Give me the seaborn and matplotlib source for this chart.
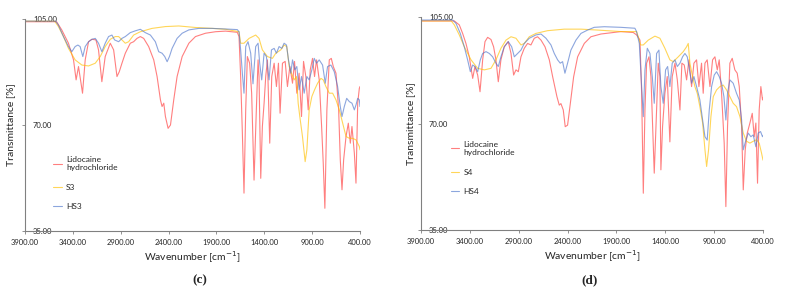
import pandas as pd
import seaborn as sns
import matplotlib.pyplot as plt
from matplotlib.ticker import FormatStrFormatter

# ---- panel (c) data : wavenumber [cm-1], transmittance [%] ----
lido_c_wn = [3900, 3570, 3516, 3446, 3393, 3366, 3341, 3299, 3271, 3236, 3201, 3159, 3132, 3097, 3062,
             3009, 2974, 2939, 2915, 2887, 2852, 2800, 2765, 2730, 2695, 2660, 2608, 2555, 2520, 2485,
             2468, 2450, 2433, 2405, 2380, 2346, 2311, 2258, 2188, 2119, 2014, 1909, 1804, 1682, 1664,
             1647, 1629, 1612, 1594, 1577, 1553, 1532, 1507, 1483, 1465, 1455, 1437, 1420, 1402, 1385,
             1367, 1343, 1322, 1297, 1273, 1252, 1235, 1210, 1182, 1158, 1133, 1105, 1084, 1060, 1036,
             1011, 990, 966, 941, 920, 896, 875, 854, 826, 801, 784, 767, 746, 721, 700,
             679, 651, 623, 606, 588, 571, 546, 522, 501, 484, 459, 442, 424, 407, 400]
lido_c_t = [104.1, 104.1, 101.4, 97.0, 91.5, 84.9, 89.3, 80.5, 91.5, 97.5, 98.3, 98.1, 94.8, 84.3, 92.6,
            97.0, 94.8, 86.0, 87.6, 90.4, 93.7, 97.0, 97.5, 98.6, 99.2, 98.6, 95.9, 91.5, 86.0, 78.3,
            76.1, 77.2, 72.8, 68.9, 70.0, 78.3, 86.0, 92.6, 97.0, 99.2, 100.3, 100.8, 101.0, 100.6, 99.2,
            86.0, 67.3, 47.5, 75.0, 92.6, 90.4, 80.5, 51.8, 75.0, 91.5, 86.0, 52.4, 69.5, 77.2, 86.0,
            91.5, 64.0, 86.0, 90.4, 82.7, 90.4, 73.9, 90.4, 91.0, 82.7, 89.3, 83.8, 91.0, 80.5, 87.1,
            72.8, 91.0, 86.0, 75.0, 88.2, 92.0, 86.0, 91.5, 84.9, 69.5, 57.4, 42.5, 75.0, 91.5, 92.0,
            89.3, 87.1, 75.0, 58.5, 48.6, 58.5, 66.2, 70.6, 64.0, 69.5, 60.7, 50.8, 77.2, 82.1, 82.7]

s3_wn = [3900, 3590, 3551, 3498, 3446, 3376, 3306, 3236, 3166, 3114, 3062, 3009, 2957, 2922, 2887,
         2852, 2817, 2765, 2695, 2573, 2433, 2293, 2119, 1944, 1804, 1664, 1647, 1612, 1559, 1490,
         1455, 1420, 1367, 1315, 1280, 1228, 1193, 1165, 1140, 1116, 1088, 1063, 1046, 1029, 1001,
         973, 955, 931, 903, 875, 843, 808, 784, 756, 721, 686, 651, 616, 581, 546,
         511, 477, 442, 407, 400]
s3_t = [104.3, 104.3, 102.5, 99.2, 95.3, 91.5, 89.8, 89.5, 90.4, 92.6, 95.9, 98.3, 99.2, 99.2, 98.1,
        97.0, 97.5, 99.7, 100.8, 101.9, 102.5, 102.7, 102.2, 101.9, 101.6, 100.8, 97.0, 97.0, 98.6, 99.7,
        98.6, 94.8, 92.6, 92.0, 93.7, 94.8, 96.4, 95.9, 89.3, 87.1, 84.9, 86.0, 77.2, 72.8, 66.2,
        57.9, 61.8, 75.0, 79.4, 81.6, 83.8, 85.4, 84.9, 82.7, 80.5, 80.5, 78.3, 75.0, 70.6, 66.2,
        65.6, 65.6, 65.1, 62.9, 61.8]

hs3_wn = [3900, 3580, 3551, 3498, 3446, 3411, 3376, 3348, 3324, 3296, 3271, 3236, 3201, 3166, 3132,
          3097, 3062, 3027, 2992, 2964, 2922, 2887, 2852, 2800, 2747, 2695, 2643, 2590, 2538, 2503,
          2468, 2440, 2415, 2391, 2363, 2311, 2258, 2188, 2084, 1944, 1804, 1682, 1664, 1647, 1629,
          1612, 1594, 1570, 1542, 1518, 1490, 1465, 1448, 1427, 1402, 1378, 1350, 1325, 1297, 1273,
          1245, 1217, 1193, 1168, 1147, 1123, 1105, 1081, 1060, 1036, 1011, 983, 955, 931, 903,
          878, 854, 826, 791, 763, 739, 704, 669, 634, 606, 588, 564, 539, 511, 484,
          459, 442, 424, 407, 400]
hs3_t = [104.3, 104.3, 103.0, 99.2, 95.9, 94.2, 95.9, 96.4, 95.9, 92.6, 95.9, 97.5, 98.3, 98.6, 97.0,
         94.2, 97.0, 99.2, 99.7, 98.1, 97.5, 98.6, 99.2, 100.5, 101.1, 101.6, 100.5, 99.7, 97.5, 94.2,
         93.7, 92.6, 90.9, 92.6, 95.3, 98.6, 100.3, 101.4, 101.9, 101.9, 101.7, 101.5, 100.8, 94.8, 87.1,
         80.5, 95.9, 97.5, 93.7, 83.6, 95.9, 97.0, 90.4, 84.9, 93.7, 92.6, 84.9, 94.8, 95.3, 93.7,
         95.9, 95.3, 97.0, 96.4, 91.5, 87.1, 91.5, 88.2, 89.3, 81.6, 86.0, 80.5, 86.0, 84.9, 88.2,
         92.0, 90.4, 91.5, 89.8, 83.8, 89.3, 89.8, 87.6, 82.7, 76.1, 72.8, 76.1, 78.8, 77.7, 77.2,
         75.0, 76.6, 78.8, 78.3, 76.1]

# ---- panel (d) data ----
lido_d_wn = [3900, 3559, 3508, 3474, 3440, 3406, 3371, 3348, 3320, 3296, 3269, 3245, 3218, 3184, 3157,
             3133, 3109, 3082, 3048, 3007, 2979, 2952, 2928, 2904, 2877, 2843, 2809, 2775, 2741, 2707,
             2672, 2631, 2587, 2553, 2509, 2485, 2468, 2444, 2424, 2400, 2372, 2338, 2297, 2229, 2161,
             2059, 1956, 1854, 1728, 1694, 1659, 1642, 1625, 1608, 1591, 1567, 1547, 1513, 1489, 1472,
             1455, 1445, 1428, 1404, 1380, 1353, 1329, 1301, 1277, 1250, 1230, 1206, 1182, 1158, 1131,
             1107, 1080, 1056, 1029, 1012, 994, 971, 943, 916, 892, 868, 848, 824, 797, 780,
             763, 739, 715, 688, 664, 643, 619, 602, 582, 561, 534, 510, 490, 473, 456,
             439, 422, 405, 400]
lido_d_t = [103.8, 103.8, 102.5, 99.7, 96.4, 92.0, 84.9, 88.8, 86.0, 80.5, 91.0, 97.0, 98.4, 97.7, 95.3,
            91.0, 83.8, 91.0, 95.3, 97.0, 93.1, 86.0, 87.7, 87.1, 92.0, 94.8, 96.4, 95.9, 98.1, 98.6,
            97.5, 95.3, 91.0, 85.5, 78.9, 76.1, 76.6, 74.5, 69.0, 69.5, 76.6, 85.4, 92.0, 96.4, 98.6,
            99.5, 99.9, 100.3, 100.0, 99.2, 97.5, 80.0, 47.1, 74.5, 89.9, 92.0, 85.5, 53.7, 74.5, 89.9,
            85.5, 54.8, 69.0, 80.0, 85.5, 64.0, 85.5, 89.9, 84.4, 74.5, 89.9, 89.3, 84.4, 91.0, 82.2,
            89.9, 91.0, 82.2, 89.9, 80.0, 89.9, 91.0, 82.2, 91.0, 92.0, 87.7, 91.0, 80.0, 63.5, 42.7,
            69.0, 89.9, 91.5, 87.7, 86.6, 82.2, 69.0, 48.2, 61.4, 66.9, 70.2, 73.4, 65.7, 70.2, 50.4,
            74.5, 82.2, 77.8, 78.5]

s4_wn = [3900, 3590, 3559, 3508, 3457, 3388, 3320, 3252, 3184, 3133, 3082, 3030, 2979, 2928, 2877,
         2843, 2792, 2724, 2604, 2434, 2263, 2093, 1854, 1694, 1676, 1653, 1625, 1574, 1506, 1455,
         1404, 1353, 1318, 1267, 1216, 1182, 1165, 1148, 1121, 1097, 1073, 1046, 1018, 994, 977,
         957, 933, 909, 875, 841, 807, 773, 739, 705, 671, 636, 602, 568, 534, 500,
         466, 439, 415, 400]
s4_t = [103.8, 103.8, 102.5, 99.2, 95.3, 91.0, 88.2, 87.7, 88.2, 91.0, 94.8, 97.5, 98.6, 98.1, 95.9,
        96.4, 98.6, 99.7, 100.6, 101.1, 101.1, 100.8, 100.3, 100.3, 98.6, 95.9, 95.9, 97.5, 98.8, 98.1,
        94.8, 91.0, 90.4, 92.0, 93.7, 95.3, 96.4, 89.9, 85.5, 82.2, 80.0, 75.6, 70.2, 61.4, 55.9,
        61.4, 72.3, 78.9, 81.1, 82.2, 82.7, 81.1, 78.9, 76.7, 75.6, 72.3, 66.9, 64.2, 63.6, 64.2,
        64.7, 63.6, 60.3, 58.0]

hs4_wn = [3900, 3576, 3542, 3498, 3457, 3423, 3395, 3371, 3348, 3320, 3293, 3269, 3235, 3201, 3167,
          3133, 3109, 3082, 3048, 3007, 2972, 2945, 2911, 2877, 2843, 2792, 2724, 2672, 2621, 2570,
          2536, 2502, 2475, 2451, 2427, 2400, 2366, 2314, 2263, 2195, 2127, 2024, 1854, 1711, 1694,
          1666, 1642, 1625, 1608, 1584, 1557, 1533, 1513, 1489, 1465, 1445, 1421, 1397, 1376, 1353,
          1329, 1301, 1277, 1250, 1223, 1199, 1175, 1155, 1131, 1107, 1080, 1046, 1018, 994, 971,
          950, 926, 899, 875, 848, 824, 800, 780, 763, 739, 705, 671, 643, 619, 602,
          575, 551, 524, 500, 473, 449, 425, 405, 400]
hs4_t = [104.1, 104.1, 103.0, 99.7, 95.3, 91.0, 87.1, 89.3, 88.8, 87.1, 91.0, 93.1, 93.7, 93.1, 92.0,
         89.9, 88.8, 92.0, 95.3, 97.0, 95.3, 92.0, 93.1, 94.2, 96.4, 98.1, 99.2, 99.5, 98.1, 95.9,
         93.1, 91.0, 89.9, 90.4, 86.6, 89.9, 94.2, 97.5, 99.7, 100.8, 101.7, 101.9, 101.7, 101.4, 100.3,
         96.4, 82.2, 72.3, 87.7, 94.8, 93.1, 85.5, 76.7, 93.1, 94.2, 82.2, 76.7, 87.7, 88.8, 82.2,
         89.9, 91.0, 88.8, 89.9, 92.0, 93.1, 92.0, 88.2, 83.3, 85.5, 82.2, 77.8, 71.2, 65.7, 64.6,
         74.5, 82.2, 86.0, 87.1, 85.5, 83.3, 78.9, 71.2, 80.0, 84.4, 83.3, 80.0, 77.8, 71.2, 61.4,
         64.6, 66.9, 65.7, 66.3, 62.4, 66.9, 67.4, 65.7, 66.0]

x_ticks = [3900, 3400, 2900, 2400, 1900, 1400, 900, 400]
y_ticks = [35, 70, 105]

sns.set_theme(style="white")
plt.rcParams["font.family"] = ["Lato", "DejaVu Sans"]

red = "#ff3b3b"
yellow = "#ffc000"
blue = "#4f76cc"

fig = plt.figure(figsize=(7.85, 2.97), dpi=100)
ax_c = fig.add_axes([25 / 785, 1 - 231 / 297, 335 / 785, 212 / 297])
ax_d = fig.add_axes([421 / 785, 1 - 230 / 297, 342 / 785, 212.7 / 297])

panels = [
    (ax_c, [(lido_c_wn, lido_c_t, red, "Lidocaine\nhydrochloride"),
            (s3_wn, s3_t, yellow, "S3"),
            (hs3_wn, hs3_t, blue, "HS3")], (0.075, 0.37), -0.030, "(c)", 200 / 785),
    (ax_d, [(lido_d_wn, lido_d_t, red, "Lidocaine\nhydrochloride"),
            (s4_wn, s4_t, yellow, "S4"),
            (hs4_wn, hs4_t, blue, "HS4")], (0.078, 0.435), -0.018, "(d)", 590 / 785),
]

for ax, series, leg_pos, ylab_x, tag, tag_x in panels:
    for wn, t, col, lab in series:
        df = pd.DataFrame({"wn": wn, "t": t})
        sns.lineplot(data=df, x="wn", y="t", ax=ax, color=col, lw=0.8, alpha=0.65,
                     label=lab, sort=False, estimator=None)
    ax.set_xlim(3900, 400)
    ax.set_ylim(35, 105)
    ax.set_xticks(x_ticks)
    ax.set_yticks(y_ticks)
    ax.xaxis.set_major_formatter(FormatStrFormatter("%.2f"))
    ax.yaxis.set_major_formatter(FormatStrFormatter("%.2f"))
    ax.tick_params(axis="x", labelsize=5.5, length=2.5, width=0.6, color="#808080",
                   direction="out", bottom=True, pad=3.5)
    ax.tick_params(axis="y", labelsize=5.5, length=2.5, width=0.6, color="#808080",
                   direction="out", left=True, pad=-8.3)
    for lbl in ax.get_yticklabels():
        lbl.set_ha("left")
    for side in ["top", "right"]:
        ax.spines[side].set_visible(False)
    for side in ["left", "bottom"]:
        ax.spines[side].set_color("#808080")
        ax.spines[side].set_linewidth(0.8)
    ax.set_xlabel("Wavenumber [cm$^{-1}$]", fontsize=7.5, labelpad=2)
    ax.set_ylabel("Transmittance [%]", fontsize=7.5)
    ax.yaxis.set_label_coords(ylab_x, 0.5)
    leg = ax.legend(loc="upper left", bbox_to_anchor=leg_pos, frameon=False, fontsize=6,
                    handlelength=1.0, handletextpad=0.5, labelspacing=1.5, borderaxespad=0)
    fig.text(tag_x, 1 - 280 / 297, tag, fontsize=9.5, ha="center", va="center",
             family="Liberation Serif", weight="bold")

fig.savefig("out.png", dpi=100)
